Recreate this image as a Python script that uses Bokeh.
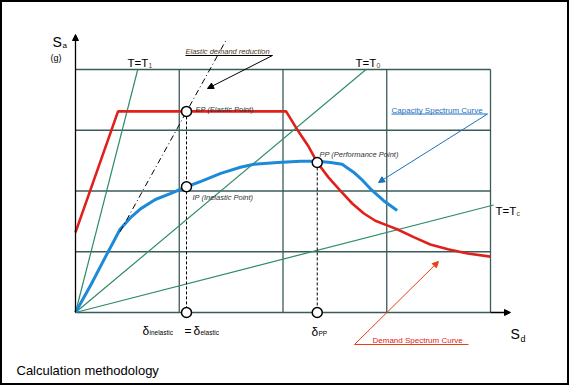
from bokeh.plotting import figure
from bokeh.models import Range1d, Arrow, NormalHead
from bokeh.core.properties import value
from bokeh.embed import file_html
from bokeh.resources import INLINE

# ---------------- data (chart units: Sd grid cells, Sa grid cells) ----------------
sd_grid = [0, 1, 2, 3, 4]
sa_grid = [0, 1, 2, 3, 4]

# Demand spectrum curve (red)
demand_sd = [0.00, 0.41, 2.03, 2.13, 2.24, 2.33, 2.44, 2.55, 2.67, 2.78, 2.89, 3.01,
             3.10, 3.26, 3.42, 3.59, 3.78, 4.00]
demand_sa = [1.32, 3.31, 3.31, 3.03, 2.75, 2.47, 2.22, 2.01, 1.79, 1.63, 1.51, 1.43,
             1.37, 1.24, 1.12, 1.04, 0.97, 0.92]

# Capacity spectrum curve (blue)
capacity_sd = [0.00, 0.15, 0.29, 0.43, 0.53, 0.63, 0.77, 0.92, 1.07, 1.21, 1.40, 1.59,
               1.72, 1.95, 2.17, 2.33, 2.46, 2.57, 2.68, 2.77, 2.84, 2.97, 3.10]
capacity_sa = [0.00, 0.46, 0.92, 1.37, 1.56, 1.71, 1.86, 1.96, 2.07, 2.16, 2.29, 2.39,
               2.44, 2.47, 2.49, 2.49, 2.47, 2.44, 2.31, 2.17, 2.04, 1.84, 1.68]

# Constant-period lines from the origin (end points)
period_names = ["1", "0", "c"]
period_end_sd = [0.60, 2.80, 4.03]
period_end_sa = [4.00, 4.00, 1.77]

# Key points: EP (elastic), IP (inelastic), PP (performance)
ep_sd, ep_sa = 1.07, 3.31
ip_sd, ip_sa = 1.07, 2.07
pp_sd, pp_sa = 2.33, 2.47

# Elastic line through EP (dash-dot)
elastic_sd = [0.43, 1.46]
elastic_sa = [1.33, 4.51]

# ---------------- layout helpers (page pixel -> chart units) ----------------
def X(px):
    return (px - 75) / 103.75

def Y(py):
    return (312 - py) / 60.75

W, H = 569, 385
p = figure(width=W, height=H, output_backend="svg", toolbar_location=None,
           x_range=Range1d(X(0), X(W)), y_range=Range1d(Y(H), Y(0)),
           min_border=0, x_axis_location=None, y_axis_location=None)
p.grid.visible = False
p.outline_line_color = "black"
p.outline_line_width = 3
p.background_fill_color = "white"
p.border_fill_color = "white"

FONT = value("Liberation Sans")
GRID = "#3b5b5b"
GREEN = "#2e8b66"
RED = "#e0201a"
BLUE = "#1c8ad8"

# grid
for gx in sd_grid[1:]:
    p.line([gx, gx], [sa_grid[0], sa_grid[-1]], line_color=GRID, line_width=1.3)
for gy in sa_grid:
    p.line([sd_grid[0], sd_grid[-1]], [gy, gy], line_color=GRID, line_width=1.3)

# axes with arrows
p.add_layout(Arrow(x_start=0, y_start=0, x_end=0, y_end=Y(34), line_color="black", line_width=1.3,
                   end=NormalHead(size=6, fill_color="black", line_color="black")))
p.add_layout(Arrow(x_start=sd_grid[-1], y_start=0, x_end=X(510), y_end=0, line_color="black", line_width=1.3,
                   end=NormalHead(size=6, fill_color="black", line_color="black")))

# constant period lines
for ex, ey in zip(period_end_sd, period_end_sa):
    p.line([0, ex], [0, ey], line_color=GREEN, line_width=1.2)

# demand & capacity curves
p.line(demand_sd, demand_sa, line_color=RED, line_width=2.6)
p.line(capacity_sd, capacity_sa, line_color=BLUE, line_width=3)

# elastic dash-dot line
p.line(elastic_sd, elastic_sa, line_color="black", line_width=1, line_dash="6 3 1 3")

# projection dashed lines
p.line([ep_sd, ep_sd], [ep_sa, 0], line_color="black", line_width=1, line_dash="3 2")
p.line([pp_sd, pp_sd], [pp_sa, 0], line_color="black", line_width=1, line_dash="3 2")

# points
p.scatter([ep_sd, ip_sd, pp_sd, ep_sd, pp_sd], [ep_sa, ip_sa, pp_sa, 0, 0], size=10,
          fill_color="white", line_color="black", line_width=1.5)

def label(px, py, s, size, color="black", style="normal", align="left"):
    p.text(x=[X(px)], y=[Y(py)], text=[s], text_font=FONT, text_font_size=size,
           text_color=color, text_font_style=style, text_align=align,
           text_baseline="alphabetic")

# axis titles
label(52, 41, "S", "14px")
label(62, 45, "a", "8px")
label(50, 57, "(g)", "9px")
label(510, 333, "S", "14px")
label(520, 338, "d", "9px")

# period labels
t_pos = [(127, 62), (355, 62), (495, 210)]
for (tx, ty), nm in zip(t_pos, period_names):
    label(tx, ty, "T=T", "11.5px")
    label(tx + 21, ty + 3, nm, "7px", color="#7a3b1a")

# annotations
label(185, 51, "Elastic demand reduction", "7.5px", color="#4a3520", style="italic")
p.line([X(185), X(272)], [Y(55), Y(55)], line_color="black", line_width=1)
p.add_layout(Arrow(x_start=X(272), y_start=Y(55), x_end=X(207), y_end=Y(88), line_color="black",
                   line_width=1, end=NormalHead(size=6, fill_color="black", line_color="black")))

label(195, 109, "EP (Elastic Point)", "7.5px", color="#333333", style="italic")
label(192, 197, "IP (Inelastic Point)", "7.5px", color="#333333", style="italic")
label(319, 154, "PP (Performance Point)", "7.5px", color="#333333", style="italic")

label(391, 110, "Capacity Spectrum Curve", "8px", color="#1a6fc0")
p.line([X(391), X(487)], [Y(113.5), Y(113.5)], line_color="#1a6fc0", line_width=1)
p.add_layout(Arrow(x_start=X(487), y_start=Y(113.5), x_end=X(378), y_end=Y(182), line_color="#1a6fc0",
                   line_width=1, end=NormalHead(size=6, fill_color="#1a6fc0", line_color="#1a6fc0")))

label(372, 340, "Demand Spectrum Curve", "8px", color=RED)
p.line([X(354), X(468)], [Y(344), Y(344)], line_color="#e84010", line_width=1)
p.add_layout(Arrow(x_start=X(354), y_start=Y(344), x_end=X(438), y_end=Y(261), line_color="#e84010",
                   line_width=1, end=NormalHead(size=6, fill_color="#e84010", line_color="#e84010")))

# delta labels
label(142, 330, "δ", "12px")
label(149, 332, "inelastic", "6.5px")
label(184, 330, "=", "12px")
label(193, 330, "δ", "12px")
label(200, 332, "elastic", "6.5px")
label(311, 331, "δ", "12px")
label(318, 333, "PP", "6.5px")

label(16, 370, "Calculation methodology", "13px")

open("out.html", "w").write(file_html(p, INLINE))
